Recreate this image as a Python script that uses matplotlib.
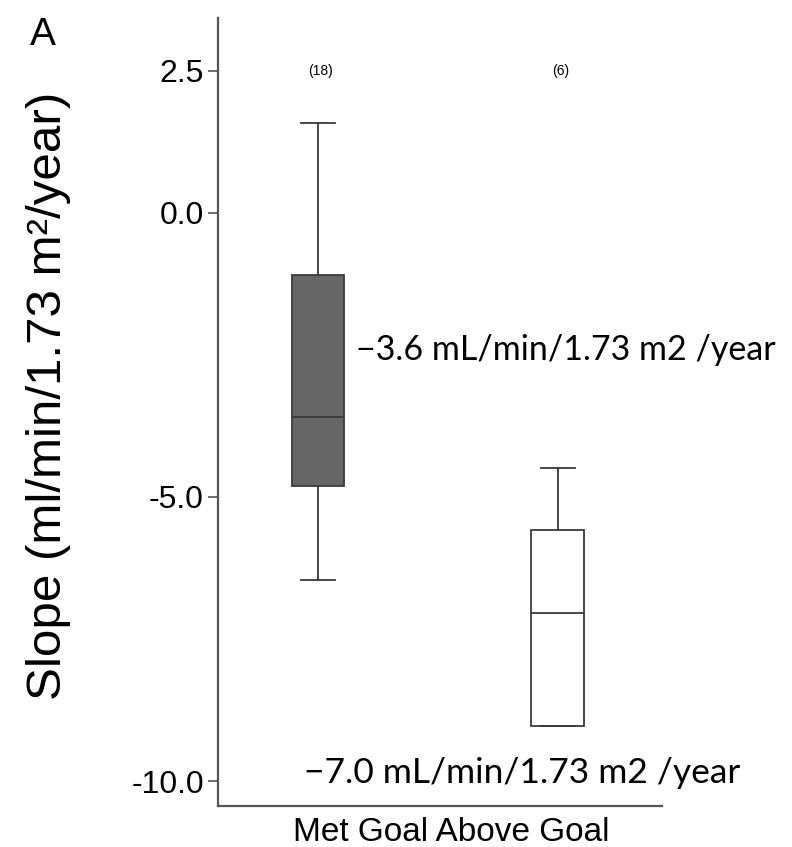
import matplotlib.pyplot as plt

# data
groups = ["Met Goal", "Above Goal"]
counts = ["(18)", "(6)"]
whisker_hi = [1.58, -4.49]
q3 = [-1.09, -5.58]
median = [-3.59, -7.04]
q1 = [-4.81, -9.03]
whisker_lo = [-6.46, -9.03]
fills = ["#666666", "#ffffff"]
notes = ["\u22123.6 mL/min/1.73 m2 /year", "\u22127.0 mL/min/1.73 m2 /year"]
yticks = [2.5, 0.0, -5.0, -10.0]

fig = plt.figure(figsize=(7.92, 8.47), dpi=100)
ax = fig.add_axes([0.275, 0.0484, 0.561, 0.9303])

stats = []
for i in range(len(groups)):
    stats.append({"label": groups[i], "med": median[i], "q1": q1[i], "q3": q3[i],
                  "whislo": whisker_lo[i], "whishi": whisker_hi[i], "fliers": []})

line_col = "#3a3a3a"
bp = ax.bxp(stats, positions=[1, 2], widths=0.22, patch_artist=True, showfliers=False,
            boxprops=dict(edgecolor=line_col, linewidth=1.3),
            medianprops=dict(color=line_col, linewidth=1.3),
            whiskerprops=dict(color=line_col, linewidth=1.3),
            capprops=dict(color=line_col, linewidth=1.3), capwidths=0.14)
for patch, c in zip(bp["boxes"], fills):
    patch.set_facecolor(c)

ax.set_xlim(0.582, 2.435)
ax.set_ylim(-10.44, 3.43)
ax.set_yticks(yticks)
ax.set_yticklabels(["%.1f" % v for v in yticks], fontsize=23, family="Liberation Sans")
ax.set_xticks([])
ax.tick_params(axis="y", length=7, width=1.2, color="#555555", pad=3)

for s in ["top", "right"]:
    ax.spines[s].set_visible(False)
for s in ["left", "bottom"]:
    ax.spines[s].set_color("#555555")
    ax.spines[s].set_linewidth(1.6)

ax.set_ylabel("Slope (ml/min/1.73 m\u00b2/year)", fontsize=35.5, family="Liberation Sans")
ax.yaxis.set_label_coords(-0.33, 0.52)
ax.set_xlabel("Met Goal Above Goal", fontsize=24, family="Liberation Sans")
ax.xaxis.set_label_coords((451 - 218) / 444, -0.014)
ax.xaxis.label.set_va("top")

for i in range(len(groups)):
    ax.text(i + 1.01, 2.5, counts[i], fontsize=10, ha="center", va="center", family="Liberation Sans")

ax.text(1.16, -2.41, notes[0], fontsize=24.5, ha="left", va="center", family="Lato")
ax.text(0.94, -9.86, notes[1], fontsize=25.5, ha="left", va="center", family="Lato")

fig.text(0.038, 0.959, "A", fontsize=28, family="Liberation Sans", va="center")

fig.savefig("out.png", dpi=100)
